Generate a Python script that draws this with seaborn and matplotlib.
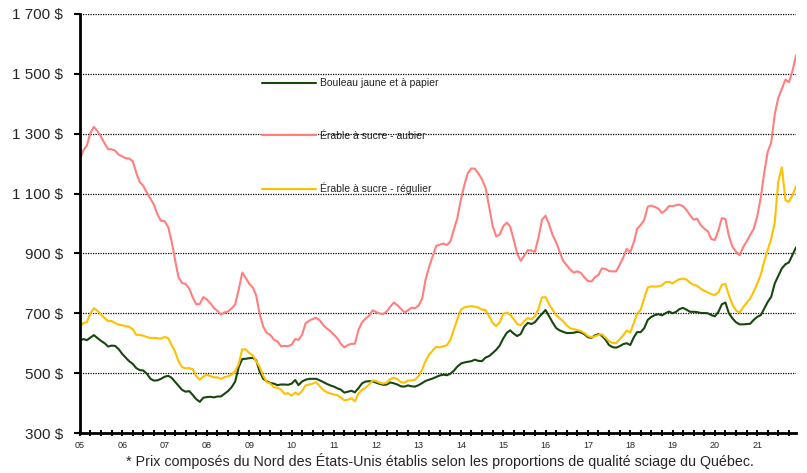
import numpy as np
import pandas as pd
import seaborn as sns
import matplotlib.pyplot as plt
import matplotlib.dates as mdates
from matplotlib.ticker import FuncFormatter

# Prix mensuels ($) janvier 2005 - decembre 2021
mois = pd.date_range('2005-01-01', periods=204, freq='MS')

bouleau = [609, 614, 610, 619, 627, 617, 608, 600, 589, 592, 591, 580,
           564, 551, 540, 531, 517, 510, 509, 498, 481, 475, 476, 481,
           488, 491, 485, 471, 457, 444, 438, 440, 427, 413, 404, 418,
           420, 421, 419, 422, 422, 431, 440, 453, 472, 520, 547, 548,
           550, 551, 543, 505, 481, 473, 467, 465, 460, 462, 462, 461,
           465, 477, 460, 472, 478, 481, 481, 481, 476, 470, 464, 459,
           455, 449, 445, 435, 438, 441, 436, 450, 466, 472, 473, 473,
           468, 464, 461, 462, 469, 466, 462, 456, 455, 459, 456, 455,
           460, 467, 474, 478, 482, 487, 492, 495, 493, 498, 508, 522,
           532, 536, 538, 540, 545, 541, 540, 552, 557, 567, 578, 592,
           616, 635, 643, 632, 624, 631, 655, 668, 664, 670, 685, 698,
           711, 690, 670, 651, 643, 638, 634, 634, 635, 638, 636, 630,
           620, 618, 626, 630, 625, 612, 594, 587, 585, 590, 597, 600,
           594, 620, 637, 637, 650, 678, 688, 694, 697, 693, 700, 706,
           700, 705, 714, 718, 712, 705, 705, 704, 701, 701, 700, 694,
           690, 705, 730, 736, 700, 683, 670, 663, 663, 664, 665, 678,
           688, 694, 715, 738, 755, 800, 825, 850, 864, 870, 895, 920]

aubier = [1215, 1246, 1260, 1303, 1323, 1308, 1290, 1268, 1248, 1248, 1243, 1230,
          1224, 1218, 1217, 1208, 1170, 1138, 1126, 1103, 1083, 1063, 1030, 1009,
          1008, 988, 943, 879, 820, 801, 798, 783, 753, 730, 731, 754,
          746, 733, 718, 708, 696, 703, 706, 716, 730, 778, 836, 818,
          798, 786, 760, 696, 655, 634, 628, 612, 606, 590, 591, 590,
          595, 614, 611, 628, 666, 675, 681, 685, 676, 661, 649, 641,
          628, 616, 598, 586, 594, 598, 598, 645, 670, 682, 692, 710,
          704, 699, 698, 706, 722, 736, 727, 715, 703, 710, 719, 717,
          726, 750, 811, 855, 890, 925, 929, 933, 928, 939, 980, 1018,
          1080, 1131, 1168, 1184, 1183, 1167, 1148, 1120, 1057, 993, 957, 963,
          991, 1003, 990, 947, 900, 875, 893, 911, 910, 905, 953, 1012,
          1026, 997, 962, 938, 906, 875, 861, 846, 836, 840, 835, 820,
          808, 806, 820, 828, 850, 848, 841, 840, 840, 862, 886, 915,
          904, 938, 982, 995, 1012, 1056, 1060, 1055, 1050, 1035, 1044, 1058,
          1058, 1061, 1063, 1058, 1045, 1028, 1013, 1016, 995, 983, 974, 948,
          945, 978, 1018, 1015, 958, 922, 906, 894, 921, 940, 962, 982,
          1025, 1088, 1168, 1240, 1270, 1366, 1420, 1450, 1481, 1472, 1510, 1562]

regulier = [654, 668, 670, 700, 717, 708, 696, 684, 674, 674, 667, 662,
            660, 657, 655, 647, 628, 628, 625, 621, 617, 618, 617, 615,
            621, 617, 595, 572, 540, 520, 516, 517, 513, 490, 478, 489,
            495, 490, 486, 486, 481, 487, 489, 495, 507, 530, 580, 579,
            567, 559, 540, 520, 491, 470, 465, 453, 451, 445, 431, 433,
            425, 435, 428, 440, 459, 462, 465, 470, 456, 444, 436, 432,
            429, 426, 419, 409, 411, 416, 406, 432, 444, 452, 462, 476,
            473, 468, 465, 468, 480, 485, 480, 470, 468, 475, 476, 478,
            490, 512, 540, 562, 575, 588, 586, 590, 593, 610, 645, 680,
            712, 720, 722, 724, 722, 719, 712, 711, 690, 668, 657, 670,
            698, 702, 696, 681, 664, 660, 674, 684, 680, 690, 715, 753,
            754, 730, 712, 694, 684, 673, 660, 650, 647, 644, 641, 634,
            624, 620, 623, 627, 630, 619, 607, 601, 600, 613, 626, 642,
            636, 668, 698, 712, 750, 786, 790, 789, 790, 793, 804, 805,
            800, 808, 814, 816, 813, 802, 795, 792, 782, 775, 770, 764,
            761, 770, 795, 798, 760, 728, 710, 702, 720, 735, 750, 772,
            800, 830, 872, 912, 948, 1005, 1140, 1188, 1078, 1072, 1095, 1124]

essences = ['Bouleau jaune et à papier', 'Érable à sucre - aubier', 'Érable à sucre - régulier']
couleurs = ['#17470f', '#ff7f7f', '#ffc000']

df = pd.DataFrame({
    'Mois': np.tile(mois, 3),
    'Prix': bouleau + aubier + regulier,
    'Essence': np.repeat(essences, len(mois)),
})

sns.set_theme(style='white')
plt.rcParams['font.family'] = ['Liberation Sans', 'DejaVu Sans']

fig = plt.figure(figsize=(8.07, 4.73), dpi=100)
ax = fig.add_axes([80 / 807, 40 / 473, 716 / 807, 419 / 473])

sns.lineplot(data=df, x='Mois', y='Prix', hue='Essence',
             palette=dict(zip(essences, couleurs)), linewidth=1.5, ax=ax)

# axe des y
ax.set_ylim(300, 1700)
ax.set_yticks(range(300, 1701, 200))
ax.yaxis.set_major_formatter(FuncFormatter(lambda v, p: f'{v:,.0f} $'.replace(',', ' ')))
ax.set_axisbelow(True)
ax.yaxis.grid(True, color='black', linestyle=(0, (1, 1)), linewidth=0.9)
ax.xaxis.grid(False)

# axe des x
ax.set_xlim(mois[0], mois[-1])
ax.xaxis.set_major_locator(mdates.YearLocator())
ax.xaxis.set_major_formatter(mdates.DateFormatter('%y'))
ax.xaxis.set_minor_locator(mdates.MonthLocator(bymonth=[1, 4, 7, 10]))

ax.set_xlabel('')
ax.set_ylabel('')
for s in ['top', 'right']:
    ax.spines[s].set_visible(False)
for s in ['left', 'bottom']:
    ax.spines[s].set_linewidth(2)
    ax.spines[s].set_color('black')

ax.tick_params(axis='y', direction='out', length=4, width=1.5, color='black',
               labelsize=11, pad=8, left=True)
ax.tick_params(axis='x', which='both', direction='inout', length=5, width=1.5,
               color='black', bottom=True)
ax.tick_params(axis='x', which='major', labelsize=6.5, pad=3)

handles, labels = ax.get_legend_handles_labels()
leg = ax.legend(handles, labels, loc='upper left',
                bbox_to_anchor=(262 / 807, 1 - 78.5 / 473), bbox_transform=fig.transFigure,
                frameon=False, fontsize=7.5, handlelength=5.2, handletextpad=0.4,
                labelspacing=4.05, borderpad=0, borderaxespad=0)
for t in leg.get_texts():
    t.set_color('#222222')

fig.text(440 / 807, 1 - 461 / 473,
         '* Prix composés du Nord des États-Unis établis selon les proportions de qualité sciage du Québec.',
         ha='center', va='center', fontsize=10.3)

fig.savefig('out.png', dpi=100)
